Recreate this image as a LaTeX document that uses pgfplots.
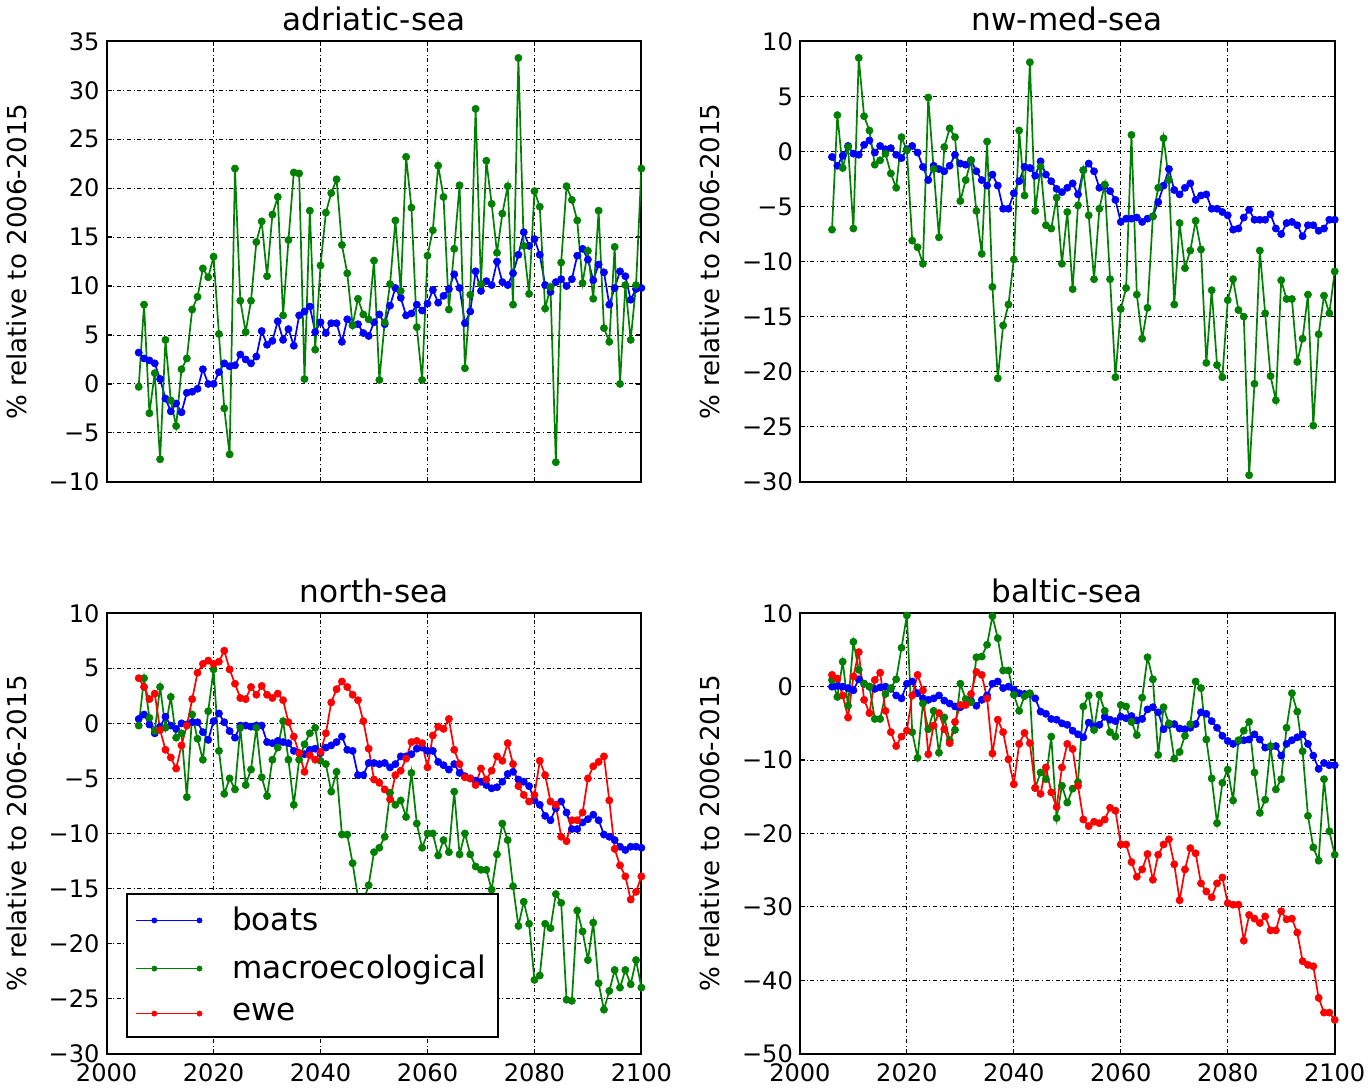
\documentclass[border=0pt]{standalone}
\usepackage{fontspec}
\setmainfont{DejaVu Sans}
\usepackage{pgfplots}
\pgfplotsset{compat=1.18}
\usepackage{pgfplotstable}
\definecolor{mplblue}{rgb}{0,0,1}
\definecolor{mplgreen}{rgb}{0,0.5,0}
\definecolor{mplred}{rgb}{1,0,0}

\pgfplotstableread{
year boats macro
2006 3.2 -0.3
2007 2.6 8.1
2008 2.4 -3.0
2009 2.1 1.1
2010 0.5 -7.7
2011 -1.5 4.5
2012 -2.8 -1.7
2013 -2.0 -4.3
2014 -2.9 1.5
2015 -0.9 2.6
2016 -0.8 7.6
2017 -0.5 8.9
2018 1.5 11.8
2019 0.0 10.9
2020 0.0 13.0
2021 1.2 5.1
2022 2.1 -2.5
2023 1.8 -7.2
2024 1.9 22.0
2025 3.0 8.5
2026 2.5 5.3
2027 2.1 8.5
2028 2.8 14.5
2029 5.4 16.6
2030 4.0 11.0
2031 4.4 17.3
2032 6.4 19.1
2033 4.5 7.0
2034 5.6 14.7
2035 3.9 21.6
2036 7.0 21.5
2037 7.4 0.5
2038 7.9 17.7
2039 5.3 3.5
2040 6.3 12.1
2041 5.2 17.5
2042 6.2 19.5
2043 6.2 20.9
2044 4.3 14.2
2045 6.6 11.3
2046 6.0 6.0
2047 6.1 8.7
2048 5.2 7.1
2049 4.9 6.6
2050 6.3 12.6
2051 7.1 0.4
2052 6.1 6.3
2053 8.0 10.2
2054 9.8 16.7
2055 8.8 9.5
2056 7.0 23.2
2057 7.2 18.0
2058 8.1 5.8
2059 7.5 0.4
2060 8.2 13.1
2061 9.6 15.7
2062 8.3 22.3
2063 9.0 19.1
2064 9.7 7.6
2065 11.2 13.8
2066 9.8 20.3
2067 6.2 1.6
2068 7.4 9.1
2069 11.5 28.1
2070 9.5 10.2
2071 10.5 22.8
2072 10.1 18.4
2073 12.5 13.4
2074 10.4 17.4
2075 10.1 20.2
2076 11.3 8.1
2077 13.2 33.3
2078 15.5 14.1
2079 14.1 9.2
2080 14.8 19.7
2081 13.2 18.1
2082 10.1 7.7
2083 9.4 9.9
2084 10.4 -8.0
2085 10.7 12.4
2086 10.0 20.2
2087 10.7 18.8
2088 13.1 16.7
2089 13.8 10.3
2090 12.7 13.6
2091 10.6 8.7
2092 12.2 17.7
2093 11.4 5.7
2094 8.1 4.3
2095 9.8 14.0
2096 11.5 0.0
2097 11.0 10.1
2098 8.6 4.5
2099 9.7 10.1
2100 9.8 22.0
}\adriatic

\pgfplotstableread{
year boats macro
2006 -0.5 -7.1
2007 -1.3 3.3
2008 -0.4 -1.5
2009 0.5 0.4
2010 -0.2 -7.0
2011 -0.3 8.5
2012 0.6 3.2
2013 1.0 1.9
2014 -0.1 -1.2
2015 0.5 -0.8
2016 0.2 -0.2
2017 0.3 -2.0
2018 -0.3 -3.3
2019 -0.6 1.3
2020 0.2 0.1
2021 0.5 -8.1
2022 -0.1 -8.7
2023 -1.4 -10.2
2024 -2.6 4.9
2025 -1.3 -1.6
2026 -1.6 -7.8
2027 -1.8 0.4
2028 -1.3 2.1
2029 -0.3 1.3
2030 -1.1 -4.5
2031 -1.2 -2.6
2032 -0.8 -0.8
2033 -1.8 -5.4
2034 -2.6 -9.3
2035 -3.1 0.9
2036 -2.1 -12.3
2037 -3.1 -20.6
2038 -5.2 -15.8
2039 -5.2 -13.9
2040 -3.8 -9.8
2041 -2.7 1.9
2042 -1.4 -4.0
2043 -1.5 8.1
2044 -2.2 -5.4
2045 -0.9 -1.4
2046 -2.1 -6.7
2047 -2.7 -7.0
2048 -3.4 -4.2
2049 -3.7 -10.2
2050 -3.3 -5.5
2051 -2.9 -12.5
2052 -3.9 -4.9
2053 -1.7 -1.7
2054 -1.1 -5.8
2055 -1.8 -11.6
2056 -3.3 -5.2
2057 -3.1 -3.0
2058 -3.6 -11.6
2059 -4.4 -20.5
2060 -6.4 -14.3
2061 -6.1 -12.4
2062 -6.1 1.5
2063 -6.0 -13.0
2064 -6.4 -17.0
2065 -6.1 -14.2
2066 -5.9 -5.9
2067 -4.6 -3.3
2068 -3.1 1.2
2069 -1.6 -2.6
2070 -3.5 -13.9
2071 -3.9 -6.5
2072 -3.3 -10.6
2073 -2.9 -9.0
2074 -4.4 -6.3
2075 -4.0 -8.9
2076 -3.9 -19.2
2077 -5.2 -12.6
2078 -5.2 -19.4
2079 -5.5 -20.5
2080 -5.8 -13.5
2081 -7.1 -11.6
2082 -7.0 -14.4
2083 -6.0 -15.0
2084 -5.3 -29.4
2085 -6.2 -21.1
2086 -6.2 -9.0
2087 -6.2 -14.7
2088 -5.7 -20.4
2089 -7.0 -22.6
2090 -7.5 -11.7
2091 -6.5 -13.4
2092 -6.4 -13.4
2093 -6.7 -19.1
2094 -7.7 -17.0
2095 -6.7 -13.0
2096 -6.7 -24.9
2097 -7.2 -16.6
2098 -7.0 -13.1
2099 -6.2 -14.7
2100 -6.2 -10.9
}\nwmed

\pgfplotstableread{
year boats macro ewe
2006 0.4 -0.2 4.1
2007 0.8 4.1 3.3
2008 -0.1 0.5 2.2
2009 -0.9 -0.7 2.7
2010 -0.3 3.3 -0.6
2011 0.6 -0.4 -2.4
2012 -0.2 2.4 -3.1
2013 -0.5 -1.3 -4.1
2014 0.0 -0.9 -2.0
2015 -0.1 -6.7 -0.2
2016 0.1 0.8 2.2
2017 0.1 -1.4 4.6
2018 -0.8 -3.3 5.4
2019 -1.5 1.1 5.7
2020 0.2 4.9 5.4
2021 0.9 -2.5 5.6
2022 0.1 -6.4 6.6
2023 -0.7 -5.0 4.9
2024 -1.3 -6.0 3.6
2025 -0.2 -0.4 2.3
2026 -0.2 -5.6 2.2
2027 -0.3 -4.2 3.3
2028 -0.2 -0.4 2.6
2029 -0.2 -4.9 3.4
2030 -1.7 -6.6 2.6
2031 -1.8 -3.3 2.3
2032 -1.6 -2.2 2.7
2033 -1.7 0.2 2.1
2034 -1.8 -3.3 0.1
2035 -2.5 -7.4 -1.2
2036 -2.7 -3.3 -2.7
2037 -2.8 -1.9 -4.4
2038 -2.4 -0.9 -2.9
2039 -2.3 -0.4 -3.3
2040 -2.7 -3.4 -2.6
2041 -2.2 -3.7 -0.9
2042 -2.0 -6.2 1.9
2043 -1.7 -4.4 3.1
2044 -1.2 -10.1 3.8
2045 -2.4 -10.1 3.3
2046 -2.5 -12.7 2.6
2047 -4.7 -15.8 2.1
2048 -4.7 -16.2 0.2
2049 -3.6 -14.7 -2.3
2050 -3.6 -11.7 -5.1
2051 -3.7 -11.3 -5.4
2052 -3.6 -10.3 -6.0
2053 -4.0 -6.3 -6.9
2054 -3.7 -7.4 -4.7
2055 -3.0 -7.0 -4.3
2056 -3.0 -8.5 -3.2
2057 -2.8 -4.5 -1.7
2058 -2.3 -9.1 -1.6
2059 -2.2 -11.3 -1.8
2060 -2.5 -10.0 -4.0
2061 -2.5 -10.0 -1.1
2062 -3.5 -12.0 -0.3
2063 -3.8 -10.6 -0.5
2064 -4.2 -11.7 0.4
2065 -3.7 -6.2 -2.4
2066 -4.5 -11.9 -3.7
2067 -4.8 -10.0 -4.9
2068 -5.0 -11.9 -5.0
2069 -5.2 -13.0 -5.6
2070 -5.3 -13.3 -4.1
2071 -5.6 -13.3 -5.1
2072 -5.9 -15.1 -4.3
2073 -5.8 -11.9 -3.0
2074 -5.3 -9.1 -3.4
2075 -4.6 -10.6 -1.8
2076 -4.4 -14.8 -3.7
2077 -5.1 -18.4 -5.7
2078 -5.3 -16.2 -6.5
2079 -5.7 -18.2 -7.1
2080 -7.0 -23.3 -6.5
2081 -7.4 -22.9 -3.4
2082 -8.4 -18.2 -4.7
2083 -8.8 -18.6 -7.1
2084 -7.7 -15.5 -7.4
2085 -7.1 -16.3 -10.3
2086 -8.1 -25.1 -10.7
2087 -9.6 -25.2 -8.8
2088 -9.6 -17.0 -8.8
2089 -9.0 -18.9 -8.1
2090 -8.7 -21.5 -5.0
2091 -8.3 -18.1 -3.9
2092 -8.8 -23.6 -3.5
2093 -10.1 -26.0 -3.0
2094 -10.3 -24.3 -7.0
2095 -10.6 -22.4 -11.4
2096 -11.2 -24.0 -12.9
2097 -11.5 -22.4 -13.9
2098 -11.2 -23.7 -16.0
2099 -11.2 -21.5 -15.3
2100 -11.3 -24.0 -13.9
}\northsea

\pgfplotstableread{
year boats macro ewe
2006 0.0 0.9 1.6
2007 0.1 -1.4 1.1
2008 0.0 3.4 -1.2
2009 -0.2 -2.6 -4.2
2010 -0.5 6.1 1.4
2011 1.0 2.3 4.7
2012 0.4 0.4 -1.8
2013 0.0 0.0 -3.6
2014 -0.3 -4.4 0.9
2015 -0.1 -4.4 1.9
2016 0.0 -1.0 -3.3
2017 -0.3 -0.2 -6.2
2018 -1.2 1.0 -8.1
2019 -1.6 5.3 -6.8
2020 0.4 9.7 -6.0
2021 0.7 -6.2 -1.2
2022 -0.9 -9.7 1.6
2023 -1.6 -2.3 -0.5
2024 -1.8 -5.8 -9.2
2025 -1.6 -3.3 -5.3
2026 -1.2 -9.0 -3.6
2027 -1.9 -4.2 -5.8
2028 -2.3 -7.3 -7.7
2029 -2.7 -5.9 -4.8
2030 -2.8 0.4 -2.5
2031 -2.4 -1.7 -2.5
2032 -1.9 -2.1 -1.0
2033 -2.6 4.0 2.0
2034 -1.8 4.1 1.6
2035 -1.2 5.7 -1.6
2036 0.4 9.6 -9.1
2037 0.7 6.6 -4.5
2038 -0.2 2.2 -6.2
2039 0.0 2.2 -9.9
2040 -0.4 -1.1 -13.3
2041 -0.9 -3.3 -7.8
2042 -1.0 -1.3 -6.3
2043 -1.0 -0.9 -7.7
2044 -1.6 -13.8 -13.8
2045 -3.4 -11.7 -14.6
2046 -3.7 -12.6 -11.0
2047 -4.4 -6.8 -14.4
2048 -4.5 -17.9 -16.4
2049 -5.0 -13.5 -11.0
2050 -5.2 -15.8 -7.8
2051 -6.0 -13.9 -8.5
2052 -6.5 -13.0 -13.5
2053 -6.9 -2.7 -18.1
2054 -4.9 -1.2 -19.0
2055 -5.5 -5.9 -18.4
2056 -5.2 -1.1 -18.6
2057 -4.1 -3.3 -18.1
2058 -4.5 -6.2 -16.5
2059 -4.7 -6.8 -16.9
2060 -4.1 -2.5 -21.5
2061 -4.3 -2.7 -21.5
2062 -4.0 -4.8 -23.9
2063 -4.6 -6.6 -25.9
2064 -4.4 -1.5 -24.9
2065 -3.1 4.0 -22.8
2066 -2.8 1.0 -26.3
2067 -3.5 -9.3 -22.9
2068 -5.8 -2.8 -21.5
2069 -5.2 -5.0 -20.8
2070 -5.1 -9.8 -24.2
2071 -5.7 -8.9 -29.1
2072 -5.8 -6.7 -24.9
2073 -5.6 -5.1 -22.0
2074 -5.1 0.7 -22.7
2075 -3.5 -0.2 -26.8
2076 -3.7 -7.2 -27.9
2077 -4.7 -12.5 -28.7
2078 -5.6 -18.6 -26.8
2079 -6.7 -13.1 -26.0
2080 -7.4 -11.3 -29.5
2081 -7.8 -15.5 -29.7
2082 -7.4 -7.3 -29.7
2083 -7.3 -6.0 -34.6
2084 -7.2 -4.8 -31.1
2085 -6.5 -11.7 -31.6
2086 -7.2 -17.2 -32.2
2087 -8.3 -15.4 -31.3
2088 -8.2 -8.1 -33.2
2089 -8.1 -14.0 -33.2
2090 -9.4 -12.6 -30.6
2091 -7.8 -5.6 -31.7
2092 -7.3 -0.9 -31.6
2093 -6.9 -3.4 -33.5
2094 -6.5 -8.8 -37.4
2095 -7.8 -17.6 -37.9
2096 -9.4 -21.9 -38.1
2097 -11.2 -23.7 -42.4
2098 -10.4 -12.6 -44.4
2099 -10.7 -19.7 -44.4
2100 -10.7 -22.9 -45.4
}\baltic

\pgfplotsset{
  panel/.style={
    width=266.5pt, height=219.5pt, scale only axis,
    xmin=2000, xmax=2100, xtick={2000,2020,...,2100},
    grid=major,
    major grid style={black, line width=0.45pt, dash pattern=on 2pt off 1.3pt on 0.5pt off 1.3pt},
    tick align=inside, tick pos=both, major tick length=2.5pt,
    axis line style={line width=1pt},
    every tick/.style={black, line width=0.6pt},
    tick label style={font=\fontsize{12}{14}\selectfont},
    xticklabel style={yshift=-1.5pt},
    every axis title/.style={at={(axis description cs:0.5,1)}, anchor=base, yshift=5.5pt, font=\fontsize{15.5}{18}\selectfont},
    ylabel={\% relative to 2006-2015},
    every axis y label/.style={at={(axis description cs:-0.168,0.5)}, rotate=90, anchor=center, font=\fontsize{13}{15}\selectfont},
    clip=true,
  },
  ser/.style={color=#1, line width=0.85pt, mark=*, mark size=1.8pt, mark options={solid, fill=#1, draw=#1, line width=0.3pt}},
}

\begin{document}
\begin{tikzpicture}
% adriatic
\begin{axis}[panel, at={(0pt,285pt)}, anchor=south west,
  title={adriatic-sea}, xticklabels={},
  ymin=-10, ymax=35, ytick={-10,-5,...,35},
  yticklabels={−10,−5,0,5,10,15,20,25,30,35}]
\addplot[ser=mplblue] table[x=year,y=boats]{\adriatic};
\addplot[ser=mplgreen] table[x=year,y=macro]{\adriatic};
\end{axis}
% nw-med
\begin{axis}[panel, at={(345.5pt,285pt)}, anchor=south west,
  title={nw-med-sea}, xticklabels={},
  ymin=-30, ymax=10, ytick={-30,-25,...,10},
  yticklabels={−30,−25,−20,−15,−10,−5,0,5,10}]
\addplot[ser=mplblue] table[x=year,y=boats]{\nwmed};
\addplot[ser=mplgreen] table[x=year,y=macro]{\nwmed};
\end{axis}
% north-sea
\begin{axis}[panel, at={(0pt,0pt)}, anchor=south west,
  title={north-sea},
  xticklabels={2000,2020,2040,2060,2080,2100},
  ymin=-30, ymax=10, ytick={-30,-25,...,10},
  yticklabels={−30,−25,−20,−15,−10,−5,0,5,10},
  legend style={at={(axis description cs:0.037,0.036)}, anchor=south west,
    font=\fontsize{15.5}{18}\selectfont, draw=black, line width=1pt,
    fill=white, inner xsep=4pt, inner ysep=4.5pt, row sep=6.7pt,
    cells={anchor=west},
    /tikz/every odd column/.append style={column sep=13pt}},
  legend image code/.code={\path (0pt,0pt) -- (9pt,0pt); \draw[#1, mark size=1.3pt] plot coordinates {(9pt,0pt) (31.5pt,0pt)};}]
\addplot[ser=mplblue] table[x=year,y=boats]{\northsea};
\addplot[ser=mplgreen] table[x=year,y=macro]{\northsea};
\addplot[ser=mplred] table[x=year,y=ewe]{\northsea};
\legend{boats,macroecological,ewe}
\end{axis}
% baltic
\begin{axis}[panel, at={(345.5pt,0pt)}, anchor=south west,
  title={baltic-sea},
  xticklabels={2000,2020,2040,2060,2080,2100},
  ymin=-50, ymax=10, ytick={-50,-40,...,10},
  yticklabels={−50,−40,−30,−20,−10,0,10}]
\addplot[ser=mplblue] table[x=year,y=boats]{\baltic};
\addplot[ser=mplgreen] table[x=year,y=macro]{\baltic};
\addplot[ser=mplred] table[x=year,y=ewe]{\baltic};
\end{axis}
\end{tikzpicture}
\end{document}
